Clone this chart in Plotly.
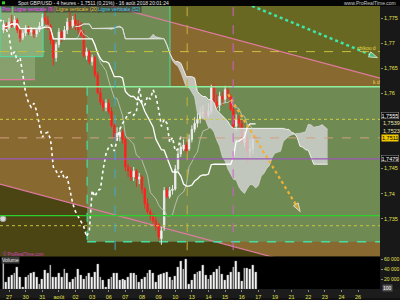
import plotly.graph_objects as go
import pandas as pd

# ---------------- data ----------------
# bar index: 0 = 27 Jul 00:00, 4-hour bars, 6 bars per day
bars = list(range(-2, 90))
opens = [1.7726,1.7736,1.7730,1.7742,1.7734,1.7746,1.7726,1.7710,1.7720,1.7730,
         1.7722,1.7726,1.7718,1.7726,1.7734,1.7750,1.7746,1.7734,1.7706,1.7671,
         1.7697,1.7722,1.7710,1.7726,1.7742,1.7734,1.7746,1.7738,1.7726,1.7716,
         1.7675,1.7683,1.7663,1.7671,1.7637,1.7601,1.7582,1.7572,1.7580,1.7564,
         1.7536,1.7512,1.7514,1.7522,1.7508,1.7453,1.7445,1.7433,1.7445,1.7429,
         1.7433,1.7409,1.7380,1.7364,1.7354,1.7346,1.7338,1.7310,1.7334,1.7406,
         1.7394,1.7406,1.7409,1.7449,1.7479,1.7489,1.7497,1.7489,1.7508,1.7528,
         1.7540,1.7548,1.7560,1.7562,1.7556,1.7564,1.7611,1.7582,1.7576,1.7594,
         1.7588,1.7607,1.7594,1.7568,1.7534,1.7548,1.7540,1.7502,1.7512,1.7485,
         1.7489,1.7514]
closes = [1.7736,1.7730,1.7742,1.7734,1.7746,1.7726,1.7710,1.7720,1.7730,1.7722,
          1.7726,1.7718,1.7726,1.7734,1.7750,1.7746,1.7734,1.7706,1.7671,1.7697,
          1.7722,1.7710,1.7726,1.7742,1.7734,1.7746,1.7738,1.7726,1.7716,1.7675,
          1.7683,1.7663,1.7671,1.7637,1.7601,1.7582,1.7572,1.7580,1.7564,1.7536,
          1.7512,1.7520,1.7522,1.7508,1.7453,1.7445,1.7433,1.7445,1.7429,1.7433,
          1.7409,1.7380,1.7364,1.7354,1.7346,1.7334,1.7314,1.7326,1.7406,1.7394,
          1.7406,1.7409,1.7449,1.7479,1.7493,1.7497,1.7485,1.7508,1.7528,1.7540,
          1.7548,1.7560,1.7562,1.7556,1.7564,1.7611,1.7582,1.7576,1.7594,1.7588,
          1.7607,1.7594,1.7568,1.7534,1.7548,1.7540,1.7502,1.7512,1.7485,1.7489,
          1.7514,1.7511]
highs = [1.7746,1.7742,1.7750,1.7756,1.7754,1.7750,1.7730,1.7726,1.7736,1.7734,
         1.7732,1.7730,1.7728,1.7742,1.7758,1.7762,1.7754,1.7738,1.7710,1.7702,
         1.7730,1.7726,1.7734,1.7750,1.7762,1.7754,1.7758,1.7746,1.7742,1.7726,
         1.7691,1.7687,1.7677,1.7675,1.7643,1.7611,1.7588,1.7588,1.7588,1.7572,
         1.7540,1.7532,1.7532,1.7528,1.7512,1.7459,1.7453,1.7453,1.7449,1.7441,
         1.7437,1.7413,1.7390,1.7370,1.7360,1.7354,1.7342,1.7334,1.7413,1.7413,
         1.7413,1.7417,1.7457,1.7489,1.7501,1.7508,1.7504,1.7518,1.7536,1.7552,
         1.7560,1.7572,1.7576,1.7572,1.7580,1.7617,1.7619,1.7598,1.7603,1.7603,
         1.7615,1.7613,1.7598,1.7576,1.7558,1.7556,1.7548,1.7524,1.7518,1.7508,
         1.7518,1.7518]
lows = [1.7720,1.7722,1.7726,1.7730,1.7730,1.7720,1.7702,1.7706,1.7714,1.7716,
        1.7714,1.7710,1.7712,1.7722,1.7730,1.7738,1.7726,1.7697,1.7655,1.7663,
        1.7691,1.7702,1.7706,1.7718,1.7726,1.7730,1.7726,1.7718,1.7712,1.7671,
        1.7667,1.7657,1.7655,1.7631,1.7598,1.7576,1.7564,1.7564,1.7558,1.7532,
        1.7504,1.7508,1.7504,1.7499,1.7445,1.7433,1.7425,1.7425,1.7413,1.7419,
        1.7400,1.7370,1.7360,1.7346,1.7340,1.7326,1.7306,1.7298,1.7326,1.7390,
        1.7390,1.7398,1.7406,1.7445,1.7473,1.7485,1.7479,1.7485,1.7502,1.7522,
        1.7532,1.7540,1.7548,1.7544,1.7552,1.7558,1.7572,1.7568,1.7564,1.7576,
        1.7580,1.7588,1.7564,1.7528,1.7524,1.7532,1.7497,1.7493,1.7459,1.7473,
        1.7479,1.7506]
volumes = [52,13,23,28,32,43,23,3,23,27, 31,33,23,10,20,37,32,47,23,23,
           32,23,40,32,13,20,23,39,27,20, 25,32,23,33,50,23,17,3,20,23,
           32,32,17,19,17,23,32,32,27,13, 20,23,32,37,32,13,27,30,32,33,
           23,17,25,43,55,40,59,10,17,30, 33,35,
           48,27,19,28,33,39,45,30,18,28, 34,43,55,33,15,41,41,39,48,33]
volumes = [v * 1000 for v in volumes]

day_ticks = list(range(0, 127, 6))
day_labels = ["27","30","31","août","02","03","06","07","08","09","10","13",
              "14","15","16","17","19","21","22","23","24","26"]
price_ticks = [1.735, 1.74, 1.745, 1.76, 1.765, 1.77, 1.775]
price_tick_text = ["1,735", "1,74", "1,745", "1,76", "1,765", "1,77", "1,775"]

# user drawings (bar index / price)
x_range = [-3.25, 133.9]
chan_upper = [1.7833, 1.7630]
chan_lower = [1.7419, 1.7216]
cyan_arrow_x = [87.7, 133.0]
cyan_arrow_y = [1.7774, 1.7671]
orange_arrow_x = [79.1, 105.1]
orange_arrow_y = [1.7598, 1.7364]

# ---------------- ichimoku ----------------
df = pd.DataFrame(dict(h=highs, l=lows, c=closes), index=bars)
tenkan = (df.h.rolling(9, min_periods=1).max() + df.l.rolling(9, min_periods=1).min()) / 2
kijun = (df.h.rolling(26, min_periods=1).max() + df.l.rolling(26, min_periods=1).min()) / 2
ssa = (tenkan + kijun) / 2
ssb = (df.h.rolling(52, min_periods=1).max() + df.l.rolling(52, min_periods=1).min()) / 2
lead_x = [b + 26 for b in bars]
lag_x = [b - 26 for b in bars]

fig = go.Figure()
fig.add_trace(go.Scatter(x=lead_x, y=list(ssb), mode="lines",
                         line=dict(color="#f0f0f0", width=1), xaxis="x", yaxis="y", hoverinfo="skip"))
fig.add_trace(go.Scatter(x=lead_x, y=list(ssa), mode="lines", fill="tonexty",
                         fillcolor="rgba(212,212,212,0.82)",
                         line=dict(color="#d8d8d8", width=0.7), xaxis="x", yaxis="y", hoverinfo="skip"))
fig.add_trace(go.Scatter(x=bars, y=list(tenkan), mode="lines",
                         line=dict(color="#c8ccc0", width=0.8), xaxis="x", yaxis="y"))
fig.add_trace(go.Scatter(x=bars, y=list(kijun), mode="lines",
                         line=dict(color="#ffffff", width=1.3), xaxis="x", yaxis="y"))
fig.add_trace(go.Scatter(x=lag_x, y=closes, mode="lines",
                         line=dict(color="#ffffff", width=1.6, dash="dot"), xaxis="x", yaxis="y"))

fig.add_trace(go.Candlestick(x=bars, open=opens, high=highs, low=lows, close=closes,
                             increasing=dict(line=dict(color="#e8e8e8", width=1), fillcolor="#ffffff"),
                             decreasing=dict(line=dict(color="#ff2222", width=1), fillcolor="#ff1c1c"),
                             whiskerwidth=0, xaxis="x", yaxis="y"))

# arrows
fig.add_trace(go.Scatter(x=cyan_arrow_x, y=cyan_arrow_y, mode="lines+markers",
                         line=dict(color="#3ee6a8", width=2.5, dash="dot"),
                         marker=dict(symbol="arrow", size=[0, 9], angleref="previous", color="#3ee6a8"),
                         xaxis="x", yaxis="y"))
fig.add_trace(go.Scatter(x=orange_arrow_x, y=orange_arrow_y, mode="lines+markers",
                         line=dict(color="#f2b032", width=2.2, dash="dot"),
                         marker=dict(symbol="arrow", size=[0, 9], angleref="previous", color="#f2b032"),
                         xaxis="x", yaxis="y"))
fig.add_trace(go.Scatter(x=[-2.2], y=[1.7350], mode="markers",
                         marker=dict(color="#d8d8d8", size=6, line=dict(color="#a0a0a0", width=1)),
                         xaxis="x", yaxis="y"))

# volume
fig.add_trace(go.Bar(x=bars, y=volumes, width=0.65,
                     marker=dict(color="#ffffff", line=dict(color="#909090", width=0.4)),
                     xaxis="x2", yaxis="y2"))

# ---------------- shapes ----------------
X0, X1 = x_range
shapes = []
def rect(x0, x1, y0, y1, fill, line=None, layer="below"):
    shapes.append(dict(type="rect", xref="x", yref="y", x0=x0, x1=x1, y0=y0, y1=y1,
                       fillcolor=fill, line=line or dict(width=0), layer=layer))
def seg(x0, y0, x1, y1, color, dash="solid", w=1, layer="below"):
    shapes.append(dict(type="line", xref="x", yref="y", x0=x0, x1=x1, y0=y0, y1=y1,
                       line=dict(color=color, dash=dash, width=w), layer=layer))

rect(-10, 140, 1.70, 1.80, "#686822")
shapes.append(dict(type="path", xref="x", yref="y", layer="below",
                   path=f"M {X0},{chan_upper[0]} L {X1},{chan_upper[1]} L {X1},{chan_lower[1]} L {X0},{chan_lower[0]} Z",
                   fillcolor="#886930", line=dict(width=0)))
shapes.append(dict(type="path", xref="x", yref="y", layer="below",
                   path=f"M {X0},{chan_lower[0]} L {X1},{chan_lower[1]} L {X1},1.70 L {X0},1.70 Z",
                   fillcolor="#4a4512", line=dict(width=0)))
rect(X0, 58.1, 1.7613, 1.80, "#6f8b53")
rect(X0, 12.3, 1.7673, 1.7770, "#8cae78", dict(color="#45dfa5", width=1))
rect(X0, 9.4, 1.7627, 1.7673, "rgba(180,200,160,0.35)")
rect(28.2, 140, 1.7304, 1.7613, "#6f8b53")

seg(X0, chan_upper[0], X1, chan_upper[1], "#e07aa0", w=1.2)
seg(X0, chan_lower[0], X1, chan_lower[1], "#e07aa0", w=1.2)
seg(X0, 1.7627, 9.4, 1.7627, "#e07aa0", w=1.2)
seg(58.1, 1.7613, 58.1, 1.80, "#45dfa5", w=1)
seg(28.2, 1.7613, 28.2, 1.7304, "#45dfa5", dash="dash", w=1.2)
seg(28.2, 1.7304, X1, 1.7304, "#45dfa5", dash="dash", w=1.5)

for p, col, dash, w in [(1.7613, "#8ff0a0", "solid", 1.4), (1.7683, "#c8c040", "dash", 1),
                        (1.7548, "#d0cc40", "dot", 1), (1.7511, "#d0a080", "dash", 1),
                        (1.7469, "#9a58b8", "solid", 1.2), (1.7356, "#2ed02e", "solid", 1.2),
                        (1.7336, "#c8c040", "dot", 1)]:
    seg(X0, p, X1, p, col, dash=dash, w=w, layer="above")
for xv, col in [(38.3, "#40a8d0"), (64.3, "#c8b040"), (80.9, "#d060d0")]:
    seg(xv, 1.70, xv, 1.80, col, dash="dash", w=1, layer="above")

# paper decorations
shapes.append(dict(type="rect", xref="paper", yref="paper", x0=0.95, x1=1, y0=0, y1=1,
                   fillcolor="#181818", line=dict(width=0), layer="below"))
shapes.append(dict(type="rect", xref="paper", yref="paper", x0=0, x1=1, y0=0.98, y1=1,
                   fillcolor="#050505", line=dict(width=0), layer="below"))
shapes.append(dict(type="rect", xref="paper", yref="paper", x0=0, x1=1, y0=0, y1=0.03,
                   fillcolor="#1c1c1c", line=dict(width=0), layer="below"))
shapes.append(dict(type="rect", xref="paper", yref="paper", x0=0.005, x1=0.0125, y0=0.9855, y1=0.9955,
                   fillcolor="#30d030", line=dict(width=0)))

def px(x): return x / 400
def py(y): return 1 - y / 300

ann = []
def text(x, y, s, color, size=5.5, anchor="left", bg=None, border=None, xref="paper", yref="paper"):
    d = dict(x=x, y=y, xref=xref, yref=yref, text=s, showarrow=False, xanchor=anchor, yanchor="middle",
             font=dict(color=color, size=size, family="Liberation Sans"))
    if bg:
        d.update(bgcolor=bg, borderpad=0)
    if border:
        d.update(bordercolor=border, borderwidth=0.5)
    ann.append(d)

text(px(16), py(3), "Spot GBP/USD - 4 heures - 1,7511 (0,21%) - 16 août 2018 20:01:24", "#e6e6e6", 5)
text(px(398), py(3), "www.ProRealTime.com", "#c8c8c8", 5, anchor="right")
text(px(1), py(9.5), "Prix", "#ff48ff", 5, bg="rgba(40,40,40,0.55)")
text(px(13), py(9.5), "Ligne verticale (9)", "#ff48ff", 5, bg="rgba(40,40,40,0.55)")
text(px(55), py(9.5), "Ligne verticale (20)", "#e6c040", 5, bg="rgba(40,40,40,0.55)")
text(px(97), py(9.5), "Ligne verticale (52)", "#40c8e8", 5, bg="rgba(40,40,40,0.55)")
text(px(355), py(48), "chikou d", "#e8d848", 5)
text(px(371), py(83), "k d", "#e8d848", 5)
text(px(1), py(255.5), "© ProRealTime.com", "#d040c0", 4.5)
text(px(1), py(261.5), "Volume", "#f0f0f0", 5, bg="#3a3a3a")

text(px(381), py(116.5), "1,7555", "#ffffff", 5.5, bg="#0a0a0a", border="#9a9a9a")
text(px(382), py(124), "1,7539", "#e8e8b0", 5.5, bg="#181818")
text(px(382), py(132), "1,7523", "#e8e8b0", 5.5, bg="#181818")
text(px(381), py(139), "1,7511", "#000000", 5.5, bg="#f0c800")
text(px(381), py(160), "1,7479", "#ffffff", 5.5, bg="#0a0a0a", border="#9a9a9a")
text(px(382), py(290), "100", "#ffffff", 5, bg="#505050")

fig.update_layout(
    width=400, height=300, margin=dict(l=0, r=0, t=0, b=0),
    paper_bgcolor="#111111", plot_bgcolor="#000000",
    showlegend=False, separators=", ",
    font=dict(family="Liberation Sans", size=6, color="#e0e040"),
    shapes=shapes, annotations=ann, bargap=0,
    xaxis=dict(domain=[0, 0.95], range=x_range, showticklabels=False, showgrid=False,
               zeroline=False, rangeslider=dict(visible=False), anchor="y", fixedrange=True),
    yaxis=dict(domain=[0.14, 0.98], range=[1.7275, 1.7774], side="right", anchor="x",
               tickvals=price_ticks, ticktext=price_tick_text, showgrid=False, zeroline=False,
               ticks="outside", ticklen=2, tickcolor="#888888",
               tickfont=dict(color="#e0e050", size=5.5)),
    xaxis2=dict(domain=[0, 0.95], range=x_range, anchor="y2", tickvals=day_ticks, ticktext=day_labels,
                tickfont=dict(color="#e0e050", size=5.5), showgrid=False, zeroline=False,
                ticks="outside", ticklen=2, tickcolor="#888888"),
    yaxis2=dict(domain=[0.03, 0.14], range=[0, 66000], side="right", anchor="x2",
                tickvals=[20000, 40000, 60000], ticktext=["20 000", "40 000", "60 000"],
                tickfont=dict(color="#e0e050", size=5), showgrid=False, zeroline=False,
                ticks="outside", ticklen=2, tickcolor="#888888"),
)

fig.write_html("out.html")
